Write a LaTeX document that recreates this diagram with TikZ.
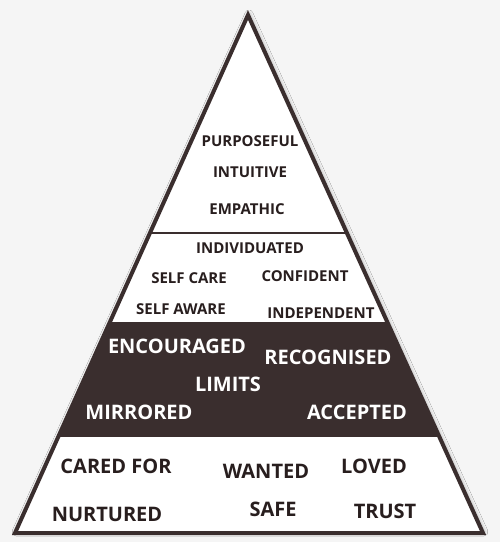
\documentclass[tikz,border=0pt]{standalone}
\usepackage{fontspec}
\setmainfont{Open Sans}
\usepackage{tikz}
\usetikzlibrary{shadows.blur}
\definecolor{brunFonce}{RGB}{58,46,46}
\definecolor{texteFonce}{RGB}{40,30,30}
\definecolor{fondGris}{RGB}{245,245,245}

\begin{document}
\begin{tikzpicture}[x=1pt, y=-1pt,
  mot/.style={font=\fontsize{15}{17}\selectfont\bfseries, text=texteFonce},
  motblanc/.style={font=\fontsize{20}{22}\selectfont\bfseries, text=white},
  motbas/.style={font=\fontsize{20}{22}\selectfont\bfseries, text=texteFonce}]

  \fill[fondGris] (0,0) rectangle (500,542);
  \useasboundingbox (0,0) rectangle (500,542);

  \coordinate (sommet) at (248,15);
  \coordinate (baseG) at (15,533);
  \coordinate (baseD) at (483,533);

  % fond blanc de la pyramide
  \fill[white, blur shadow={shadow xshift=1pt, shadow yshift=1pt,
        shadow blur radius=4pt, shadow opacity=35}]
    (sommet)--(baseG)--(baseD)--cycle;

  % bandes
  \begin{scope}
    \clip (sommet)--(baseG)--(baseD)--cycle;
    \fill[brunFonce] (0,322) rectangle (500,437);
    \draw[brunFonce, line width=1.5pt] (0,233)--(500,233);
  \end{scope}

  % contour
  \draw[brunFonce, line width=4pt, line join=miter]
    (sommet)--(baseG)--(baseD)--cycle;

  % niveau 4
  \node[mot] (purp) at (250,141) {PURPOSEFUL};
  \node[mot] (intu) at (250,172) {INTUITIVE};
  \node[mot] (empa) at (247,209) {EMPATHIC};

  % niveau 3
  \node[mot] (indiv) at (250,248) {INDIVIDUATED};
  \node[mot] (scare) at (189,278) {SELF CARE};
  \node[mot] (conf) at (305,276) {CONFIDENT};
  \node[mot] (saware) at (181,309) {SELF AWARE};
  \node[mot] (indep) at (321,313) {INDEPENDENT};

  % niveau 2
  \node[motblanc] (enc) at (177,346) {ENCOURAGED};
  \node[motblanc] (reco) at (328,357) {RECOGNISED};
  \node[motblanc] (lim) at (228,384) {LIMITS};
  \node[motblanc] (mirr) at (139,412) {MIRRORED};
  \node[motblanc] (acc) at (357,412) {ACCEPTED};

  % niveau 1
  \node[motbas] (cared) at (116,466) {CARED FOR};
  \node[motbas] (want) at (266,471) {WANTED};
  \node[motbas] (loved) at (374,466) {LOVED};
  \node[motbas] (nurt) at (107,514) {NURTURED};
  \node[motbas] (safe) at (273,509) {SAFE};
  \node[motbas] (trust) at (385,511) {TRUST};
\end{tikzpicture}
\end{document}
